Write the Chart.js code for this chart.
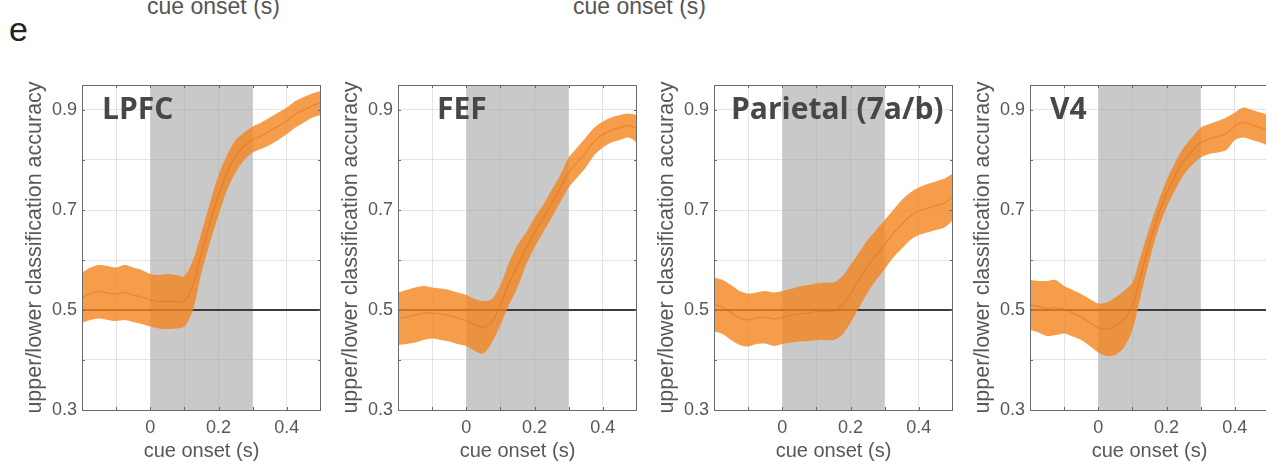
<!DOCTYPE html>
<html>
<head>
<meta charset="utf-8">
<script src="https://cdn.jsdelivr.net/npm/chart.js@4.4.0/dist/chart.umd.min.js"></script>
<style>
    html, body { margin: 0; padding: 0; background: #fff; width: 1266px; height: 463px; overflow: hidden; position: relative; }
    .panel { position: absolute; top: 0; width: 321px; height: 463px; }
    .letter { position: absolute; left: 9px; top: 12px; font: 34px "Liberation Sans", Arial, sans-serif; line-height: 34px; color: #222; }
    .cut { position: absolute; top: -5px; font: 23px "Liberation Sans", Arial, sans-serif; line-height: 23px; color: #555; white-space: nowrap; }
</style>
</head>
<body>
<div class="cut" style="left:147px">cue onset (s)</div>
<div class="cut" style="left:573px">cue onset (s)</div>
<div class="letter">e</div>
<div class="panel" style="left:0px"><canvas id="c0"></canvas></div>
<div class="panel" style="left:316px"><canvas id="c1"></canvas></div>
<div class="panel" style="left:632px"><canvas id="c2"></canvas></div>
<div class="panel" style="left:948px"><canvas id="c3"></canvas></div>
<script>
// time axis (s), relative to cue onset
const time = [-0.2, -0.175, -0.15, -0.125, -0.1, -0.075, -0.05, -0.025, 0, 0.025, 0.05, 0.075, 0.1, 0.125, 0.15,
    0.175, 0.2, 0.225, 0.25, 0.275, 0.3, 0.325, 0.35, 0.375, 0.4, 0.425, 0.45, 0.475, 0.5];

const areaNames = ['LPFC', 'FEF', 'Parietal (7a/b)', 'V4'];

// LPFC
const lpfcMean = [0.525, 0.533, 0.537, 0.534, 0.532, 0.535, 0.53, 0.526, 0.52, 0.517, 0.517, 0.517, 0.518, 0.55, 0.615,
    0.675, 0.73, 0.775, 0.808, 0.828, 0.841, 0.848, 0.858, 0.868, 0.878, 0.892, 0.9, 0.909, 0.914];
const lpfcHi = [0.575, 0.585, 0.59, 0.588, 0.585, 0.59, 0.585, 0.58, 0.572, 0.57, 0.572, 0.57, 0.568, 0.6, 0.655,
    0.715, 0.77, 0.81, 0.84, 0.855, 0.867, 0.875, 0.885, 0.895, 0.905, 0.918, 0.926, 0.933, 0.938];
const lpfcLo = [0.475, 0.48, 0.483, 0.48, 0.478, 0.48, 0.476, 0.472, 0.467, 0.463, 0.462, 0.463, 0.467, 0.5, 0.575,
    0.635, 0.69, 0.74, 0.775, 0.8, 0.815, 0.822, 0.83, 0.84, 0.852, 0.865, 0.875, 0.885, 0.89];

// FEF
const fefMean = [0.483, 0.486, 0.49, 0.494, 0.494, 0.492, 0.489, 0.484, 0.479, 0.47, 0.466, 0.476, 0.51, 0.553, 0.588,
    0.623, 0.655, 0.683, 0.713, 0.743, 0.775, 0.795, 0.815, 0.838, 0.851, 0.86, 0.865, 0.869, 0.863];
const fefHi = [0.535, 0.54, 0.545, 0.548, 0.545, 0.543, 0.54, 0.535, 0.53, 0.522, 0.518, 0.522, 0.55, 0.595, 0.63,
    0.655, 0.685, 0.71, 0.74, 0.77, 0.805, 0.825, 0.845, 0.865, 0.877, 0.885, 0.89, 0.893, 0.89];
const fefLo = [0.43, 0.432, 0.435, 0.44, 0.443, 0.44, 0.437, 0.432, 0.428, 0.418, 0.413, 0.435, 0.47, 0.51, 0.545,
    0.59, 0.625, 0.655, 0.685, 0.715, 0.745, 0.765, 0.785, 0.81, 0.825, 0.835, 0.84, 0.845, 0.835];

// Parietal (7a/b)
const parMean = [0.511, 0.506, 0.495, 0.484, 0.48, 0.484, 0.486, 0.482, 0.485, 0.489, 0.492, 0.494, 0.497, 0.498, 0.498,
    0.509, 0.533, 0.56, 0.588, 0.61, 0.631, 0.653, 0.672, 0.688, 0.698, 0.704, 0.709, 0.714, 0.727];
const parHi = [0.565, 0.56, 0.55, 0.538, 0.533, 0.535, 0.538, 0.535, 0.538, 0.542, 0.547, 0.55, 0.553, 0.555, 0.555,
    0.567, 0.59, 0.615, 0.64, 0.66, 0.68, 0.7, 0.72, 0.735, 0.745, 0.752, 0.757, 0.763, 0.773];
const parLo = [0.457, 0.452, 0.44, 0.43, 0.427, 0.432, 0.433, 0.428, 0.432, 0.435, 0.437, 0.438, 0.44, 0.44, 0.44,
    0.45, 0.475, 0.505, 0.535, 0.56, 0.582, 0.605, 0.623, 0.64, 0.65, 0.655, 0.66, 0.665, 0.68];

// V4
const v4Mean = [0.51, 0.507, 0.503, 0.505, 0.501, 0.494, 0.486, 0.475, 0.464, 0.462, 0.468, 0.482, 0.508, 0.57, 0.633,
    0.688, 0.733, 0.768, 0.798, 0.818, 0.835, 0.842, 0.847, 0.853, 0.868, 0.875, 0.87, 0.865, 0.859];
const v4Hi = [0.56, 0.558, 0.558, 0.56, 0.548, 0.54, 0.532, 0.522, 0.513, 0.515, 0.525, 0.538, 0.555, 0.61, 0.665,
    0.715, 0.76, 0.795, 0.825, 0.845, 0.865, 0.872, 0.878, 0.885, 0.895, 0.905, 0.9, 0.895, 0.89];
const v4Lo = [0.46, 0.455, 0.448, 0.45, 0.453, 0.447, 0.44, 0.428, 0.415, 0.408, 0.41, 0.425, 0.46, 0.53, 0.6,
    0.66, 0.705, 0.74, 0.77, 0.79, 0.805, 0.812, 0.815, 0.82, 0.84, 0.845, 0.84, 0.835, 0.828];

// cue period (shaded) and chance level
const cueStart = 0, cueEnd = 0.3;
const chance = 0.5;

// axes
const xMin = -0.2, xMax = 0.5, yMin = 0.3, yMax = 0.95;
const xTicks = [-0.2, -0.1, 0, 0.1, 0.2, 0.3, 0.4, 0.5];
const xTickLabels = ['', '', '0', '', '0.2', '', '0.4', ''];
const yTicks = [0.3, 0.4, 0.5, 0.6, 0.7, 0.8, 0.9];
const yTickLabels = ['0.3', '', '0.5', '', '0.7', '', '0.9'];

const series = [
    {mean: lpfcMean, hi: lpfcHi, lo: lpfcLo},
    {mean: fefMean, hi: fefHi, lo: fefLo},
    {mean: parMean, hi: parHi, lo: parLo},
    {mean: v4Mean, hi: v4Hi, lo: v4Lo}
];
// px offset of each area name from the plot's left edge
const nameDx = [20, 39, 17, 20];

const textColor = '#575757';
const sans = '"Liberation Sans", Arial, Helvetica, sans-serif';

function pts(vals) {
    return vals.map((v, i) => ({x: time[i], y: v}));
}

// box, inward ticks and the area name, matlab style
const panelDecor = {
    id: 'panelDecor',
    afterDatasetsDraw(chart, args, opts) {
        const ctx = chart.ctx, a = chart.chartArea;
        ctx.save();
        ctx.font = 'bold 30px "Open Sans", sans-serif';
        ctx.fillStyle = '#474747';
        ctx.textBaseline = 'alphabetic';
        ctx.fillText(opts.name, a.left + opts.dx, a.top + 34);
        ctx.restore();
    },
    afterDraw(chart) {
        const ctx = chart.ctx, a = chart.chartArea;
        const xs = chart.scales.x, ys = chart.scales.y;
        ctx.save();
        ctx.strokeStyle = '#6a6a6a';
        ctx.lineWidth = 1;
        ctx.beginPath();
        xs.ticks.forEach(t => {
            const px = Math.round(xs.getPixelForValue(t.value)) + 0.5;
            ctx.moveTo(px, a.bottom); ctx.lineTo(px, a.bottom - 3);
            ctx.moveTo(px, a.top); ctx.lineTo(px, a.top + 3);
        });
        ys.ticks.forEach(t => {
            const py = Math.round(ys.getPixelForValue(t.value)) + 0.5;
            ctx.moveTo(a.left, py); ctx.lineTo(a.left + 3, py);
            ctx.moveTo(a.right, py); ctx.lineTo(a.right - 3, py);
        });
        ctx.stroke();
        ctx.strokeRect(Math.round(a.left) + 0.5, Math.round(a.top) + 0.5,
            Math.round(a.right - a.left) - 1, Math.round(a.bottom - a.top));
        ctx.restore();
    }
};

// fixed axis boxes; drop the extra padding chart.js asks for around tick labels
function fixX(sc) {
    sc.height = 53;
    sc.paddingLeft = 0; sc.paddingRight = 0;
}
function fixY(sc) {
    sc.width = 82;
    sc.paddingTop = 0; sc.paddingBottom = 0;
}

function makeChart(idx) {
    const s = series[idx];
    const ctx = document.getElementById('c' + idx).getContext('2d');
    return new Chart(ctx, {
        type: 'line',
        data: {
            datasets: [
                {   // mean
                    data: pts(s.mean),
                    borderColor: 'rgba(222,108,20,0.5)',
                    borderWidth: 1.2,
                    pointRadius: 0,
                    tension: 0.3,
                    fill: false,
                    order: 1
                },
                {   // upper edge, filled down to the lower edge
                    data: pts(s.hi),
                    borderWidth: 0,
                    borderColor: 'rgba(0,0,0,0)',
                    backgroundColor: 'rgba(244,132,30,0.8)',
                    pointRadius: 0,
                    tension: 0.3,
                    fill: '+1',
                    order: 2
                },
                {   // lower edge
                    data: pts(s.lo),
                    borderWidth: 0,
                    borderColor: 'rgba(0,0,0,0)',
                    pointRadius: 0,
                    tension: 0.3,
                    fill: false,
                    order: 2
                },
                {   // chance level
                    data: [{x: xMin, y: chance}, {x: xMax, y: chance}],
                    borderColor: '#3b3b3b',
                    borderWidth: 1.8,
                    pointRadius: 0,
                    fill: false,
                    order: 3
                },
                {   // cue period
                    data: [{x: cueStart, y: yMax}, {x: cueEnd, y: yMax}],
                    borderWidth: 0,
                    borderColor: 'rgba(0,0,0,0)',
                    backgroundColor: 'rgba(168,168,168,0.62)',
                    pointRadius: 0,
                    fill: 'start',
                    order: 4
                }
            ]
        },
        options: {
            responsive: true,
            maintainAspectRatio: false,
            animation: false,
            events: [],
            layout: {autoPadding: false, padding: {top: 85, right: 0, bottom: 0, left: 0}},
            plugins: {
                legend: {display: false},
                tooltip: {enabled: false},
                panelDecor: {name: areaNames[idx], dx: nameDx[idx]}
            },
            scales: {
                x: {
                    type: 'linear',
                    min: xMin,
                    max: xMax,
                    afterBuildTicks: sc => { sc.ticks = xTicks.map(v => ({value: v})); },
                    afterFit: fixX,
                    ticks: {
                        autoSkip: false,
                        maxRotation: 0,
                        padding: 7,
                        color: textColor,
                        font: {family: sans, size: 18},
                        callback: (v, i) => xTickLabels[i]
                    },
                    grid: {color: '#e3e3e3', drawTicks: false},
                    border: {display: false},
                    title: {
                        display: true,
                        text: 'cue onset (s)',
                        color: textColor,
                        font: {family: sans, size: 20},
                        padding: {top: 0, bottom: 0}
                    }
                },
                y: {
                    type: 'linear',
                    min: yMin,
                    max: yMax,
                    afterBuildTicks: sc => { sc.ticks = yTicks.map(v => ({value: v})); },
                    afterFit: fixY,
                    ticks: {
                        padding: 5,
                        color: textColor,
                        font: {family: sans, size: 18},
                        callback: (v, i) => yTickLabels[i]
                    },
                    grid: {color: '#e3e3e3', drawTicks: false},
                    border: {display: false},
                    title: {
                        display: true,
                        text: 'upper/lower classification accuracy',
                        color: textColor,
                        font: {family: sans, size: 21.5},
                        padding: {top: 22, bottom: 0}
                    }
                }
            }
        },
        plugins: [panelDecor]
    });
}

for (let i = 0; i < series.length; i++) makeChart(i);
</script>
</body>
</html>
